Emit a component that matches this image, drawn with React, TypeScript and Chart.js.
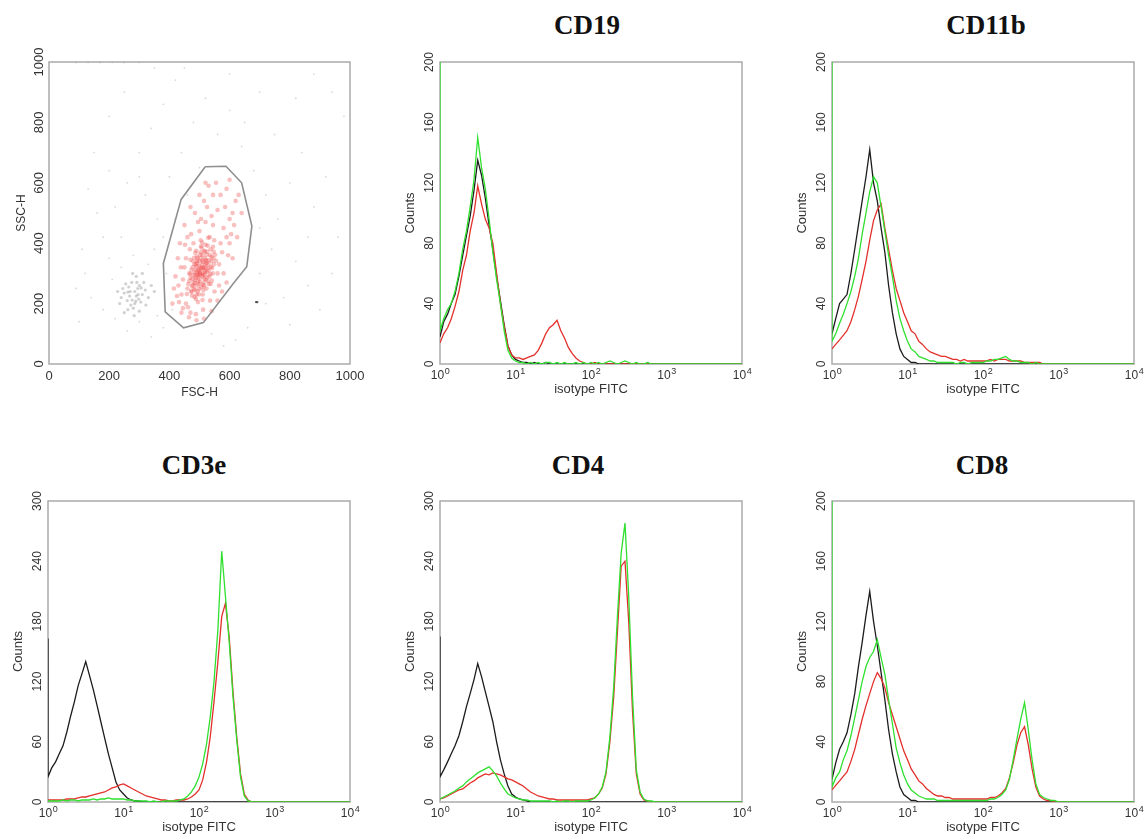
import React, { useEffect, useRef } from "react";
import { Chart, registerables } from "chart.js";

Chart.register(...registerables);

// ---------------- DATA ----------------
// Fluorescence channels (first entry duplicates 10^0 for the off-scale bin 0)
const CHANNELS = [
  1,
  1, 1.12, 1.26, 1.41, 1.58, 1.78, 2, 2.24, 2.51, 2.82, 3.16, 3.55, 3.98, 4.47, 5.01, 5.62, 6.31, 7.08, 7.94, 8.91,
  10, 11.2, 12.6, 14.1, 15.8, 17.8, 20, 22.4, 25.1, 28.2, 31.6, 35.5, 39.8, 44.7, 50.1, 56.2, 63.1, 70.8, 79.4, 89.1,
  100, 112, 126, 141, 158, 178, 200, 224, 251, 282, 316, 355, 398, 447, 501, 562, 631, 708, 794, 891,
  1000, 1120, 1260, 1410, 1580, 1780, 2000, 2240, 2510, 2820, 3160, 3550, 3980, 4470, 5010, 5620, 6310, 7080, 7940, 8910,
  10000,
];

const LOG_TICKS = [1, 10, 100, 1000, 10000];
const LOG_TICK_BASE = "10";
const LOG_TICK_EXPONENTS = ["0", "1", "2", "3", "4"];
const COUNT_TICKS_200 = [0, 40, 80, 120, 160, 200];
const COUNT_TICKS_300 = [0, 60, 120, 180, 240, 300];
const SCATTER_TICKS = [0, 200, 400, 600, 800, 1000];

const PANEL_TITLES = ["CD19", "CD11b", "CD3e", "CD4", "CD8"];

// CD19
const CD19_GREEN = [210,
  22, 30, 36, 40, 48, 60, 76, 88, 104, 122, 150, 130, 116, 96, 74, 56, 40, 22, 9, 4,
  2, 1, 1, 0, 1, 0, 1, 0, 1, 1, 0, 1, 0, 1, 0, 0, 1, 0, 1, 0,
  1, 0, 1, 0, 1, 2, 1, 0, 1, 2, 1, 0, 1, 0, 0, 1, 0, 0, 0, 0,
  0, 0, 0, 0, 0, 0, 0, 0, 0, 0, 0, 0, 0, 0, 0, 0, 0, 0, 0, 0,
  0];
const CD19_BLACK = [18,
  18, 28, 33, 40, 46, 58, 72, 85, 98, 115, 135, 125, 110, 92, 76, 58, 42, 26, 12, 6,
  3, 2, 1, 1, 0, 1, 0, 0, 1, 0, 0, 0, 0, 0, 0, 0, 0, 0, 0, 0,
  0, 0, 0, 0, 0, 0, 0, 0, 0, 0, 0, 0, 0, 0, 0, 0, 0, 0, 0, 0,
  0, 0, 0, 0, 0, 0, 0, 0, 0, 0, 0, 0, 0, 0, 0, 0, 0, 0, 0, 0,
  0];
const CD19_RED = [14,
  14, 20, 24, 30, 38, 48, 62, 72, 88, 100, 118, 106, 96, 90, 80, 60, 40, 25, 12, 6,
  4, 4, 3, 4, 5, 6, 9, 14, 20, 24, 26, 29, 22, 17, 11, 7, 4, 2, 1, 0,
  0, 1, 0, 0, 0, 0, 0, 0, 0, 0, 0, 0, 0, 0, 0, 0, 0, 0, 0, 0,
  0, 0, 0, 0, 0, 0, 0, 0, 0, 0, 0, 0, 0, 0, 0, 0, 0, 0, 0, 0,
  0];

// CD11b
const CD11B_GREEN = [210,
  15, 20, 27, 33, 40, 48, 58, 70, 86, 100, 114, 124, 120, 104, 88, 72, 58, 42, 30, 22,
  15, 10, 8, 5, 4, 3, 2, 2, 1, 1, 1, 1, 1, 0, 1, 1, 0, 1, 1, 1,
  1, 2, 2, 3, 3, 4, 5, 3, 2, 2, 1, 1, 1, 0, 1, 0, 0, 0, 0, 0,
  0, 0, 0, 0, 0, 0, 0, 0, 0, 0, 0, 0, 0, 0, 0, 0, 0, 0, 0, 0,
  0];
const CD11B_BLACK = [20,
  20, 30, 40, 43, 46, 60, 76, 92, 108, 124, 142, 120, 108, 90, 74, 52, 34, 20, 10, 5,
  3, 1, 1, 0, 0, 0, 0, 0, 0, 0, 0, 0, 0, 0, 0, 0, 0, 0, 0, 0,
  0, 0, 0, 0, 0, 0, 0, 0, 0, 0, 0, 0, 0, 0, 0, 0, 0, 0, 0, 0,
  0, 0, 0, 0, 0, 0, 0, 0, 0, 0, 0, 0, 0, 0, 0, 0, 0, 0, 0, 0,
  0];
const CD11B_RED = [10,
  10, 13, 16, 19, 22, 28, 36, 45, 56, 68, 82, 95, 102, 106, 90, 76, 62, 50, 42, 34,
  28, 22, 20, 15, 13, 10, 8, 7, 6, 5, 5, 4, 3, 3, 2, 3, 2, 2, 2, 2,
  2, 2, 3, 2, 3, 3, 3, 2, 2, 2, 2, 1, 1, 1, 1, 1, 0, 0, 0, 0,
  0, 0, 0, 0, 0, 0, 0, 0, 0, 0, 0, 0, 0, 0, 0, 0, 0, 0, 0, 0,
  0];

// CD3e
const CD3E_GREEN = [1,
  1, 1, 1, 1, 2, 1, 2, 2, 1, 2, 2, 2, 3, 2, 3, 3, 4, 3, 3, 3,
  3, 2, 2, 1, 1, 1, 1, 0, 1, 0, 0, 1, 1, 1, 1, 2, 3, 6, 10, 16,
  25, 38, 58, 85, 120, 172, 250, 205, 160, 105, 62, 25, 6, 1, 0, 0, 0, 0, 0, 0,
  0, 0, 0, 0, 0, 0, 0, 0, 0, 0, 0, 0, 0, 0, 0, 0, 0, 0, 0, 0,
  0];
const CD3E_BLACK = [163,
  25, 34, 40, 48, 56, 70, 86, 100, 116, 128, 140, 126, 112, 96, 80, 64, 48, 34, 20, 12,
  8, 4, 2, 1, 1, 0, 0, 0, 0, 0, 0, 0, 0, 0, 0, 0, 0, 0, 0, 0,
  0, 0, 0, 0, 0, 0, 0, 0, 0, 0, 0, 0, 0, 0, 0, 0, 0, 0, 0, 0,
  0, 0, 0, 0, 0, 0, 0, 0, 0, 0, 0, 0, 0, 0, 0, 0, 0, 0, 0, 0,
  0];
const CD3E_RED = [2,
  2, 2, 2, 2, 2, 3, 3, 3, 4, 5, 5, 6, 7, 8, 9, 10, 12, 14, 15, 17,
  18, 16, 14, 12, 10, 8, 6, 5, 4, 3, 2, 2, 1, 1, 2, 2, 2, 3, 5, 8,
  12, 22, 40, 65, 100, 140, 185, 198, 165, 110, 65, 28, 8, 2, 0, 0, 0, 0, 0, 0,
  0, 0, 0, 0, 0, 0, 0, 0, 0, 0, 0, 0, 0, 0, 0, 0, 0, 0, 0, 0,
  0];

// CD4
const CD4_GREEN = [3,
  3, 5, 7, 9, 11, 14, 16, 20, 23, 26, 29, 31, 33, 35, 31, 26, 19, 13, 8, 6,
  4, 3, 2, 2, 1, 1, 1, 1, 1, 1, 0, 1, 0, 1, 1, 0, 1, 1, 1, 1,
  2, 4, 8, 15, 30, 65, 115, 185, 248, 278, 205, 105, 32, 10, 3, 1, 1, 0, 0, 0,
  0, 0, 0, 0, 0, 0, 0, 0, 0, 0, 0, 0, 0, 0, 0, 0, 0, 0, 0, 0,
  0];
const CD4_BLACK = [165,
  25, 32, 40, 48, 56, 66, 80, 95, 108, 122, 138, 125, 110, 95, 80, 60, 42, 28, 16, 8,
  5, 3, 2, 1, 0, 0, 0, 0, 0, 0, 0, 0, 0, 0, 0, 0, 0, 0, 0, 0,
  0, 0, 0, 0, 0, 0, 0, 0, 0, 0, 0, 0, 0, 0, 0, 0, 0, 0, 0, 0,
  0, 0, 0, 0, 0, 0, 0, 0, 0, 0, 0, 0, 0, 0, 0, 0, 0, 0, 0, 0,
  0];
const CD4_RED = [3,
  3, 4, 6, 8, 10, 12, 13, 16, 19, 21, 24, 26, 28, 27, 29, 28, 27, 25, 23, 22,
  20, 18, 16, 13, 10, 8, 6, 5, 4, 3, 3, 2, 2, 2, 2, 2, 2, 2, 2, 2,
  3, 4, 8, 14, 28, 60, 105, 170, 235, 240, 180, 90, 28, 8, 2, 1, 0, 0, 0, 0,
  0, 0, 0, 0, 0, 0, 0, 0, 0, 0, 0, 0, 0, 0, 0, 0, 0, 0, 0, 0,
  0];

// CD8
const CD8_GREEN = [210,
  10, 16, 20, 28, 34, 44, 56, 68, 80, 90, 96, 100, 108, 96, 85, 68, 52, 36, 26, 18,
  12, 8, 6, 4, 3, 2, 2, 2, 1, 1, 1, 1, 1, 1, 1, 1, 1, 1, 1, 1,
  1, 1, 2, 2, 3, 5, 8, 15, 28, 42, 55, 66, 48, 28, 12, 5, 3, 2, 1, 1,
  0, 0, 0, 0, 0, 0, 0, 0, 0, 0, 0, 0, 0, 0, 0, 0, 0, 0, 0, 0,
  0];
const CD8_BLACK = [15,
  15, 26, 35, 40, 46, 58, 72, 90, 106, 124, 140, 120, 104, 86, 68, 48, 32, 20, 10, 5,
  3, 1, 1, 0, 0, 0, 0, 0, 0, 0, 0, 0, 0, 0, 0, 0, 0, 0, 0, 0,
  0, 0, 0, 0, 0, 0, 0, 0, 0, 0, 0, 0, 0, 0, 0, 0, 0, 0, 0, 0,
  0, 0, 0, 0, 0, 0, 0, 0, 0, 0, 0, 0, 0, 0, 0, 0, 0, 0, 0, 0,
  0];
const CD8_RED = [8,
  8, 11, 14, 17, 20, 27, 35, 45, 55, 64, 72, 80, 86, 82, 76, 66, 58, 50, 42, 34,
  28, 22, 18, 14, 12, 9, 7, 5, 4, 4, 3, 3, 2, 2, 2, 2, 2, 2, 2, 2,
  2, 2, 3, 3, 4, 6, 9, 16, 26, 38, 46, 50, 38, 22, 10, 4, 2, 1, 1, 0,
  0, 0, 0, 0, 0, 0, 0, 0, 0, 0, 0, 0, 0, 0, 0, 0, 0, 0, 0, 0,
  0];

// FSC-H / SSC-H events
const GATED_EVENTS = [
  [498,312],[512,295],[486,278],[523,334],[505,350],[478,260],[531,310],[494,241],[517,372],[469,298],
  [540,355],[501,270],[488,330],[526,288],[509,402],[475,226],[548,330],[492,356],[515,258],[483,305],
  [537,380],[460,250],[503,318],[521,345],[496,289],[511,230],[479,340],[544,300],[488,215],[530,265],
  [507,385],[466,275],[552,362],[490,322],[519,305],[499,248],[534,420],[473,312],[512,338],[485,268],
  [527,392],[458,232],[541,276],[503,362],[480,295],[516,282],[495,205],[549,410],[470,345],[523,250],
  [508,300],[490,260],[520,320],[500,340],[486,292],[532,344],[514,270],[476,282],[545,388],[498,230],
  [510,360],[482,248],[538,322],[466,300],[528,275],[504,410],[492,342],[517,296],[474,238],[555,342],
  [489,375],[524,362],[463,265],[536,298],[501,282],[511,320],[484,222],[547,372],[495,308],[529,418],
  [502,305],[514,318],[494,296],[521,280],[507,328],[488,312],[530,330],[497,265],[518,350],[480,270],
  [510,290],[525,305],[492,335],[505,255],[535,360],[470,285],[515,375],[500,295],[485,245],[528,318],
  [509,342],[496,275],[540,340],[477,320],[520,395],[490,230],[512,262],[503,370],[533,290],[482,352],
  [506,315],[519,330],[488,285],[542,318],[498,325],[513,245],[475,258],[526,372],[501,300],[494,350],
  [517,310],[483,330],[537,265],[505,390],[472,242],[524,340],[491,300],[510,212],[546,350],[486,368],
  [440,230],[455,200],[445,280],[430,260],[560,300],[570,400],[580,450],[565,330],[450,320],[462,188],
  [432,205],[575,370],[590,420],[545,460],[520,470],[500,440],[480,400],[468,380],[455,350],[600,480],
  [610,500],[585,520],[560,510],[540,490],[525,520],[505,480],[470,170],[488,165],[512,180],[535,210],
  [550,240],[565,260],[580,300],[595,360],[605,430],[445,185],[425,225],[420,290],[438,320],[452,395],
  [472,430],[495,470],[515,540],[545,560],[570,560],[590,580],[620,540],[615,460],[600,400],[575,240],
  [560,210],[540,175],[515,150],[490,145],[465,155],[440,170],[415,250],[410,200],[428,350],[460,420],
  [485,500],[530,590],[555,600],[600,610],[630,560],[640,500],[625,420],[610,350],[590,270],[470,520],
  [450,460],[435,400],[500,560],[520,600],
];
const LYMPH_LIKE_EVENTS = [
  [270,240],[290,225],[300,260],[260,210],[285,200],[310,230],[275,270],[295,250],[250,235],[280,185],
  [305,205],[265,255],[290,290],[320,245],[240,220],[285,240],[298,215],[272,195],[255,265],[315,270],
  [330,220],[262,180],[300,175],[245,250],[278,300],[340,260],[235,200],[322,195],[268,225],[292,270],
  [310,300],[250,170],[283,160],[350,240],[228,240],[296,230],[276,212],[262,238],[306,252],[288,208],
];
const BACKGROUND_EVENTS = [
  [120,300],[180,420],[220,520],[260,600],[300,700],[340,780],[380,860],[420,940],[150,700],[200,820],
  [250,900],[320,560],[360,480],[400,620],[440,700],[480,800],[520,880],[560,760],[600,840],[640,720],
  [680,640],[720,560],[760,480],[800,600],[840,700],[880,520],[920,620],[960,420],[700,300],[740,380],
  [780,220],[820,340],[860,260],[900,180],[940,300],[660,120],[620,80],[580,60],[540,100],[380,120],
  [340,90],[300,140],[260,110],[220,150],[180,180],[140,220],[100,140],[90,250],[110,380],[160,500],
  [200,350],[240,420],[350,380],[390,300],[410,180],[360,160],[700,450],[650,800],[700,900],[750,760],
  [820,880],[880,960],[450,980],[350,980],[600,960],[500,650],[460,560],[300,620],[200,640],[130,580],
  [980,820],[940,900],[860,420],[800,130],[720,200],[420,480],[380,420],[330,330],[280,360],[240,320],
  [210,280],[90,998],[130,999],[170,998],[210,999],[250,998],[300,999],
];
const DEBRIS_MARK = [[688,205],[692,205]];
const GATE_FSC = [519, 588, 640, 674, 657, 613, 513, 447, 386, 380, 439, 519];
const GATE_SSC = [653, 655, 600, 457, 322, 267, 137, 120, 173, 333, 545, 653];

// ---------------- STYLE / LAYOUT ----------------
const SANS = "'Liberation Sans', Arial, Helvetica, sans-serif";
const SERIF = "'Liberation Serif', 'Times New Roman', serif";
const TEXT = "#333333";
const GREEN = "#2fe02f";
const RED = "#e3302b";
const BLACK = "#1c1c1c";

const YW = 44;
const PT = 20;
const XH = 36;

const framePlugin = {
  id: "frameBox",
  beforeDatasetsDraw(chart: any) {
    const { ctx, chartArea } = chart;
    ctx.save();
    ctx.strokeStyle = "#ababab";
    ctx.lineWidth = 1.5;
    ctx.strokeRect(chartArea.left, chartArea.top, chartArea.right - chartArea.left, chartArea.bottom - chartArea.top);
    ctx.restore();
  },
};

// Draws the log-axis tick labels as "10" with a raised exponent, at the scale's own tick pixels.
const powerLabelPlugin = {
  id: "powerLabels",
  afterDraw(chart: any) {
    const scale = chart.scales.x;
    const { ctx } = chart;
    ctx.save();
    ctx.fillStyle = TEXT;
    ctx.textBaseline = "alphabetic";
    ctx.textAlign = "left";
    const baseY = scale.top + 14.5;
    LOG_TICKS.forEach((v, i) => {
      const px = scale.getPixelForValue(v);
      ctx.font = `12px ${SANS}`;
      const w1 = ctx.measureText(LOG_TICK_BASE).width;
      ctx.font = `9px ${SANS}`;
      const w2 = ctx.measureText(LOG_TICK_EXPONENTS[i]).width;
      const start = px - (w1 + w2) / 2;
      ctx.font = `12px ${SANS}`;
      ctx.fillText(LOG_TICK_BASE, start, baseY);
      ctx.font = `9px ${SANS}`;
      ctx.fillText(LOG_TICK_EXPONENTS[i], start + w1 + 0.5, baseY - 5);
    });
    ctx.restore();
  },
};

function yAxis(max: number, ticks: number[], title: string, fontSize: number, tickPad: number, titlePad: number) {
  return {
    min: 0,
    max,
    afterBuildTicks: (s: any) => {
      s.ticks = ticks.map((v) => ({ value: v }));
    },
    afterFit: (s: any) => {
      s.width = YW;
    },
    grid: { display: false, drawTicks: false },
    border: { display: false },
    ticks: {
      minRotation: 90,
      maxRotation: 90,
      crossAlign: "center",
      padding: tickPad,
      autoSkip: false,
      color: TEXT,
      font: { family: SANS, size: fontSize },
      callback: (v: any) => String(v),
    },
    title: {
      display: true,
      text: title,
      color: TEXT,
      font: { family: SANS, size: fontSize === 13 ? 12 : 13 },
      padding: { top: titlePad, bottom: 0 },
    },
  };
}

function histConfig(green: number[], red: number[], black: number[], yMax: number, yTicks: number[]) {
  const mk = (arr: number[], color: string) => ({
    data: CHANNELS.map((x, i) => ({ x, y: arr[i] })),
    borderColor: color,
    borderWidth: 1.3,
    pointRadius: 0,
    tension: 0,
    fill: false,
  });
  return {
    type: "line",
    data: { datasets: [mk(green, GREEN), mk(red, RED), mk(black, BLACK)] },
    options: {
      animation: false,
      responsive: false,
      devicePixelRatio: 1,
      layout: { padding: { left: 0, top: PT, right: 14, bottom: 0 } },
      plugins: { legend: { display: false }, tooltip: { enabled: false } },
      scales: {
        x: {
          type: "logarithmic",
          min: 1,
          max: 10000,
          afterBuildTicks: (s: any) => {
            s.ticks = LOG_TICKS.map((v) => ({ value: v }));
          },
          afterFit: (s: any) => {
            s.height = XH;
          },
          grid: { display: false, drawTicks: false },
          border: { display: false },
          ticks: { display: false },
          title: {
            display: true,
            text: "isotype FITC",
            color: TEXT,
            font: { family: SANS, size: 13 },
            padding: { top: 0, bottom: 2.5 },
          },
        },
        y: yAxis(yMax, yTicks, "Counts", 12, 0, 6.2),
      },
    },
    plugins: [framePlugin, powerLabelPlugin],
  };
}

function scatterConfig() {
  const pts = (arr: number[][]) => arr.map((p) => ({ x: p[0], y: p[1] }));
  return {
    type: "scatter",
    data: {
      datasets: [
        {
          type: "line",
          data: GATE_FSC.map((x, i) => ({ x, y: GATE_SSC[i] })),
          borderColor: "#8f8f8f",
          borderWidth: 1.6,
          pointRadius: 0,
          showLine: true,
          fill: false,
          tension: 0,
        },
        { data: pts(DEBRIS_MARK), pointRadius: 1.2, borderWidth: 0, backgroundColor: "rgba(60,60,60,0.8)" },
        { data: pts(GATED_EVENTS), pointRadius: 2.3, borderWidth: 0, backgroundColor: "rgba(236,60,60,0.32)" },
        { data: pts(LYMPH_LIKE_EVENTS), pointRadius: 1.6, borderWidth: 0, backgroundColor: "rgba(90,90,90,0.28)" },
        { data: pts(BACKGROUND_EVENTS), pointRadius: 0.9, borderWidth: 0, backgroundColor: "rgba(130,130,130,0.3)" },
      ],
    },
    options: {
      animation: false,
      responsive: false,
      devicePixelRatio: 1,
      layout: { padding: { left: 0, top: PT, right: 22, bottom: 0 } },
      plugins: { legend: { display: false }, tooltip: { enabled: false } },
      scales: {
        x: {
          type: "linear",
          min: 0,
          max: 1000,
          afterBuildTicks: (s: any) => {
            s.ticks = SCATTER_TICKS.map((v) => ({ value: v }));
          },
          afterFit: (s: any) => {
            s.height = XH;
          },
          grid: { display: false, drawTicks: false },
          border: { display: false },
          ticks: {
            autoSkip: false,
            minRotation: 0,
            maxRotation: 0,
            padding: 5,
            color: TEXT,
            font: { family: SANS, size: 13 },
            callback: (v: any) => String(v),
          },
          title: {
            display: true,
            text: "FSC-H",
            color: TEXT,
            font: { family: SANS, size: 12 },
            padding: { top: 0, bottom: 0 },
          },
        },
        y: yAxis(1000, SCATTER_TICKS, "SSC-H", 13, -5, 9.2),
      },
    },
    plugins: [framePlugin],
  };
}

type Geo = { left: number; top: number; width: number; height: number };

function ChartPanel({ geo, make }: { geo: Geo; make: () => any }) {
  const ref = useRef<HTMLCanvasElement | null>(null);
  useEffect(() => {
    const chart = new Chart(ref.current as HTMLCanvasElement, make());
    return () => chart.destroy();
  }, []);
  return (
    <div style={{ position: "absolute", left: geo.left, top: geo.top, width: geo.width, height: geo.height }}>
      <canvas
        ref={ref}
        width={geo.width}
        height={geo.height}
        style={{ width: geo.width, height: geo.height, display: "block" }}
      />
    </div>
  );
}

function PanelTitle({ text, cx, top }: { text: string; cx: number; top: number }) {
  return (
    <div
      style={{
        position: "absolute",
        left: cx - 100,
        top,
        width: 200,
        textAlign: "center",
        fontFamily: SERIF,
        fontWeight: "bold",
        fontSize: 27,
        lineHeight: "27px",
        color: "#111",
      }}
    >
      {text}
    </div>
  );
}

export default function App() {
  const topRowY = 62 - PT;
  const botRowY = 501 - PT;
  const hH1 = 302 + PT + XH;
  const hH2 = 301 + PT + XH;
  const hW = 302 + YW + 14;
  return (
    <div
      style={{
        position: "fixed",
        left: 0,
        top: 0,
        width: 1148,
        height: 839,
        overflow: "hidden",
        background: "#ffffff",
      }}
    >
      <ChartPanel geo={{ left: 49 - YW, top: topRowY, width: 301 + YW + 22, height: hH1 }} make={scatterConfig} />
      <ChartPanel
        geo={{ left: 440 - YW, top: topRowY, width: hW, height: hH1 }}
        make={() => histConfig(CD19_GREEN, CD19_RED, CD19_BLACK, 200, COUNT_TICKS_200)}
      />
      <ChartPanel
        geo={{ left: 832 - YW, top: topRowY, width: hW, height: hH1 }}
        make={() => histConfig(CD11B_GREEN, CD11B_RED, CD11B_BLACK, 200, COUNT_TICKS_200)}
      />
      <ChartPanel
        geo={{ left: 48 - YW, top: botRowY, width: hW, height: hH2 }}
        make={() => histConfig(CD3E_GREEN, CD3E_RED, CD3E_BLACK, 300, COUNT_TICKS_300)}
      />
      <ChartPanel
        geo={{ left: 440 - YW, top: botRowY, width: hW, height: hH2 }}
        make={() => histConfig(CD4_GREEN, CD4_RED, CD4_BLACK, 300, COUNT_TICKS_300)}
      />
      <ChartPanel
        geo={{ left: 832 - YW, top: botRowY, width: hW, height: hH2 }}
        make={() => histConfig(CD8_GREEN, CD8_RED, CD8_BLACK, 200, COUNT_TICKS_200)}
      />
      <PanelTitle text={PANEL_TITLES[0]} cx={587} top={12} />
      <PanelTitle text={PANEL_TITLES[1]} cx={986} top={12} />
      <PanelTitle text={PANEL_TITLES[2]} cx={194} top={452} />
      <PanelTitle text={PANEL_TITLES[3]} cx={578} top={452} />
      <PanelTitle text={PANEL_TITLES[4]} cx={982} top={452} />
    </div>
  );
}
